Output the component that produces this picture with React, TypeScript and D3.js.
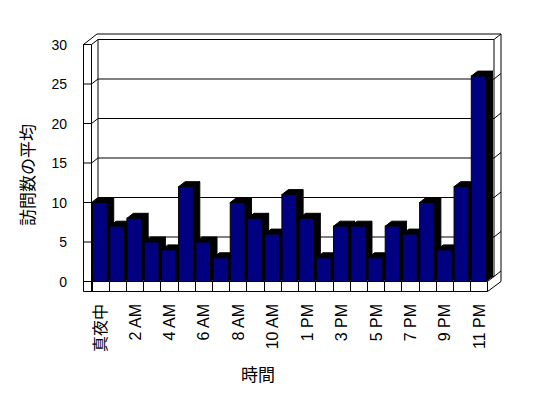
import React from "react";
import * as d3 from "d3";

const categories: string[] = [
  "真夜中", "1 AM", "2 AM", "3 AM", "4 AM", "5 AM", "6 AM", "7 AM", "8 AM", "9 AM", "10 AM", "11 AM",
  "1 PM", "2 PM", "3 PM", "4 PM", "5 PM", "6 PM", "7 PM", "8 PM", "9 PM", "10 PM", "11 PM",
];
const values: number[] = [10, 7, 8, 5, 4, 12, 5, 3, 10, 8, 6, 11, 8, 3, 7, 7, 3, 7, 6, 10, 4, 12, 26];
const yTicks: number[] = [0, 5, 10, 15, 20, 25, 30];
const xTitle = "時間";
const yTitle = "訪問数の平均";

const W = 548;
const H = 398;
const FONT = "'Liberation Sans', Arial, 'Noto Sans CJK JP', sans-serif";

export default function App() {
  const x = d3.scaleBand<string>().domain(categories).range([91.5, 487.5]).padding(0);
  const y = d3.scaleLinear().domain([0, 30]).range([281.5, 44.5]);
  const step = x.step();
  const barW = step * 0.855;
  const dx = 6.5, dy = -5; // bar depth / back wall offset
  const DX = 13.5, DY = -10.5; // full depth
  const left = 83.5, inner = x.range()[0], right = x.range()[1];
  const y0 = y(0), yTop = y(30);
  const floorBottom = y0 + 10;

  const stroke = { stroke: "#000", strokeWidth: 1, fill: "none" } as const;

  return (
    <div style={{ position: "fixed", left: 0, top: 0 }}>
      <svg width={W} height={H} style={{ display: "block", background: "#fff" }}>
        {/* back wall gridlines */}
        {yTicks.map((t) => (
          <g key={"g" + t}>
            <line x1={inner + dx} x2={right + dx} y1={y(t) + dy} y2={y(t) + dy} {...stroke} />
            <line x1={inner} x2={inner + dx} y1={y(t)} y2={y(t) + dy} {...stroke} />
            <line x1={left} x2={inner} y1={y(t)} y2={y(t)} {...stroke} />
            <line x1={right + dx} x2={right + DX} y1={y(t) + dy} y2={y(t) + DY} {...stroke} />
          </g>
        ))}
        {/* back wall inner edges */}
        <line x1={inner + dx} x2={inner + dx} y1={yTop + dy} y2={y0 + dy} {...stroke} />
        <line x1={right + dx} x2={right + dx} y1={yTop + dy} y2={y0 + dy} {...stroke} />
        <line x1={right} x2={right + dx} y1={y0} y2={y0 + dy} {...stroke} />
        {/* outer frame */}
        <line x1={left} x2={left} y1={yTop} y2={floorBottom} {...stroke} />
        <line x1={inner} x2={inner} y1={yTop} y2={floorBottom} {...stroke} />
        <line x1={left} x2={inner} y1={yTop} y2={yTop} {...stroke} />
        <line x1={left} x2={left + DX} y1={yTop} y2={yTop + DY} {...stroke} />
        <line x1={left + DX} x2={right + DX} y1={yTop + DY} y2={yTop + DY} {...stroke} />
        <line x1={right + DX} x2={right + DX} y1={yTop + DY} y2={y0} {...stroke} />
        <line x1={right} x2={right + DX} y1={floorBottom} y2={y0} {...stroke} />
        <line x1={left} x2={right} y1={floorBottom} y2={floorBottom} {...stroke} />
        <line x1={inner} x2={right} y1={y0} y2={y0} {...stroke} />
        <line x1={right} x2={right} y1={y0} y2={floorBottom} {...stroke} />
        {categories.map((c) => (
          <line key={"d" + c} x1={Math.round(x(c)!) + 0.5} x2={Math.round(x(c)!) + 0.5} y1={y0} y2={floorBottom} {...stroke} />
        ))}
        {/* bars */}
        {values.map((v, i) => {
          const x0 = (x(categories[i]) as number) + 1;
          const top = y(v);
          const side = `${x0 + barW},${top} ${x0 + barW + dx},${top + dy} ${x0 + barW + dx},${y0 + dy} ${x0 + barW},${y0}`;
          const topFace = `${x0},${top} ${x0 + dx},${top + dy} ${x0 + barW + dx},${top + dy} ${x0 + barW},${top}`;
          return (
            <g key={"b" + i}>
              <polygon points={side} fill="#000" stroke="#000" strokeWidth={1} />
              <polygon points={topFace} fill="#000" stroke="#000" strokeWidth={1} />
              <rect x={x0} y={top} width={barW} height={y0 - top} fill="#000080" stroke="#000" strokeWidth={1} />
            </g>
          );
        })}
        {/* y tick labels */}
        {yTicks.map((t) => (
          <text key={"yl" + t} x={67} y={y(t) + 5} textAnchor="end" fontFamily={FONT} fontSize={14} fill="#000">
            {t}
          </text>
        ))}
        {/* x tick labels */}
        {categories.map((c, i) =>
          i % 2 === 0 ? (
            <text
              key={"xl" + c}
              transform={`translate(${(x(c) as number) + step / 2 + 6},304) rotate(-90)`}
              textAnchor="end"
              fontFamily={FONT}
              fontSize={16}
              fill="#000"
            >
              {c}
            </text>
          ) : null
        )}
        <text x={258} y={381} textAnchor="middle" fontFamily={FONT} fontSize={17} fill="#000">
          {xTitle}
        </text>
        <text transform={`translate(34,175) rotate(-90)`} textAnchor="middle" fontFamily={FONT} fontSize={17} fill="#000">
          {yTitle}
        </text>
      </svg>
    </div>
  );
}
